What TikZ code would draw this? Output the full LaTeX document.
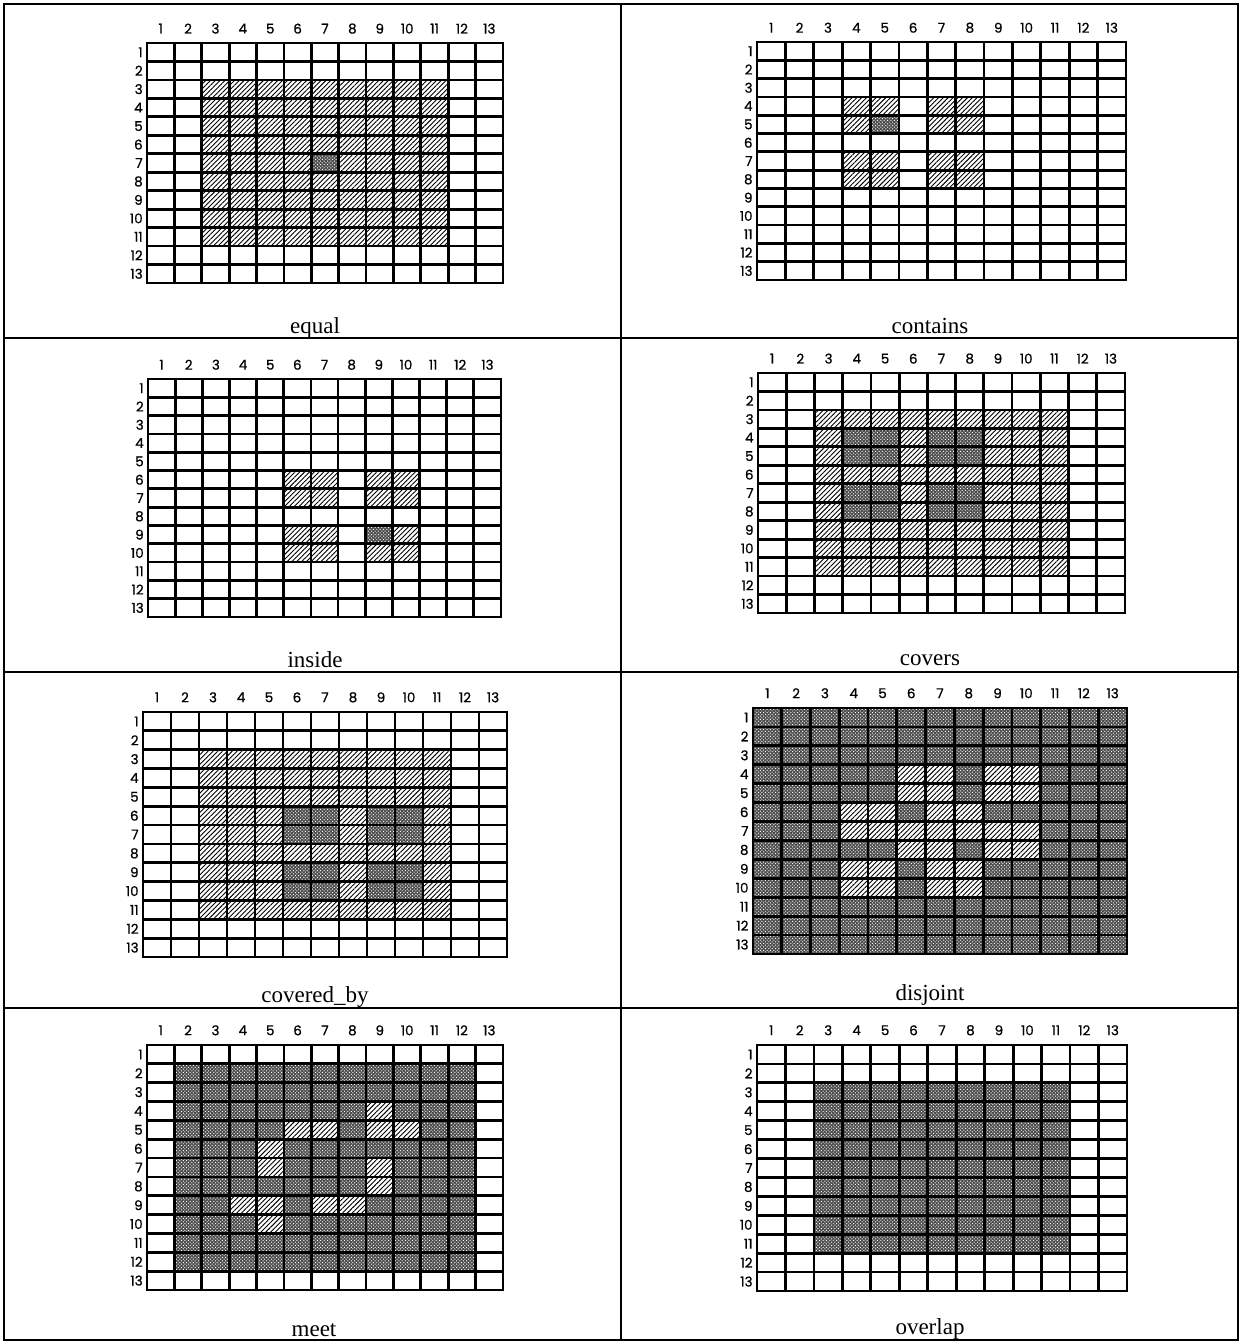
\documentclass[tikz,border=0pt]{standalone}
\usepackage{fontspec}
\setmainfont{Liberation Serif}
\newfontfamily\numfont[FakeBold=0.7]{Poppins}
\usetikzlibrary{patterns.meta}

\tikzset{
  gridline/.style={line width=2.8pt, line cap=rect},
  hatchcell/.style={pattern={Lines[angle=45,distance=3.4pt,line width=0.9pt]}, pattern color=black},
  dotbase/.style={fill=black!70},
  dotcell/.style={pattern={Dots[radius=0.7pt,distance=2.4pt,angle=45]}, pattern color=white},
  numlabel/.style={font=\numfont\fontsize{13.5}{13.5}\selectfont, inner sep=0pt},
  caption/.style={font=\fontsize{23}{23}\selectfont, inner sep=0pt, anchor=base},
  frameline/.style={line width=1.3pt}
}

\newcommand{\hcell}[2]{\fill[white] (#2-1,#1-1) rectangle (#2,#1); \fill[hatchcell] (#2-1,#1-1) rectangle (#2,#1);}
\newcommand{\dcell}[2]{\fill[dotbase] (#2-1,#1-1) rectangle (#2,#1); \fill[dotcell] (#2-1,#1-1) rectangle (#2,#1);}
% #1 prefix
\newcommand{\gridlines}[1]{%
  \foreach \i in {0,...,13} {\draw[gridline] (\i,0) -- (\i,13); \draw[gridline] (0,\i) -- (13,\i);}
  \foreach \i in {1,...,13} {%
    \node[numlabel] (#1col\i) at (\i-0.5,-0.78) {\i};
    \node[numlabel, anchor=east] (#1row\i) at (-0.15,\i-0.5) {\i};
  }%
}

\begin{document}
\begin{tikzpicture}[x=1pt,y=-1pt]
\useasboundingbox (0,0) rectangle (1241,1344);
\fill[white] (0,0) rectangle (1241,1344);

% frame
\draw[frameline] (4,4) rectangle (1238,1340);
\draw[frameline] (621,4) -- (621,1340);
\foreach \yy in {338,672,1008} {\draw[frameline] (4,\yy) -- (1238,\yy);}

% ---------- equal
\begin{scope}[shift={(147,43)}, x={(356/13,0)}, y={(0,240/13)}]
  \foreach \r in {3,...,11} {\foreach \c in {3,...,11} {\hcell{\r}{\c}}}
  \dcell{7}{7}
  \gridlines{a}
\end{scope}
\node[caption] (capa) at (315,333) {equal};

% ---------- contains
\begin{scope}[shift={(757,42)}, x={(369/13,0)}, y={(0,238/13)}]
  \foreach \r in {4,5,7,8} {\foreach \c in {4,5,7,8} {\hcell{\r}{\c}}}
  \dcell{5}{5}
  \gridlines{b}
\end{scope}
\node[caption] (capb) at (930,333) {contains};

% ---------- inside
\begin{scope}[shift={(148,379)}, x={(353/13,0)}, y={(0,238/13)}]
  \foreach \r in {6,7,9,10} {\foreach \c in {6,7,9,10} {\hcell{\r}{\c}}}
  \dcell{9}{9}
  \gridlines{c}
\end{scope}
\node[caption] (capc) at (315,667) {inside};

% ---------- covers
\begin{scope}[shift={(758,373)}, x={(367/13,0)}, y={(0,240/13)}]
  \foreach \r in {3,...,11} {\foreach \c in {3,...,11} {\hcell{\r}{\c}}}
  \foreach \r in {4,5,7,8} {\foreach \c in {4,5,7,8} {\dcell{\r}{\c}}}
  \gridlines{d}
\end{scope}
\node[caption] (capd) at (930,665) {covers};

% ---------- covered_by
\begin{scope}[shift={(143,712)}, x={(364/13,0)}, y={(0,245/13)}]
  \foreach \r in {3,...,11} {\foreach \c in {3,...,11} {\hcell{\r}{\c}}}
  \foreach \r in {6,7,9,10} {\foreach \c in {6,7,9,10} {\dcell{\r}{\c}}}
  \gridlines{e}
\end{scope}
\node[caption] (cape) at (315,1002) {covered\_by};

% ---------- disjoint
\begin{scope}[shift={(753,708)}, x={(374/13,0)}, y={(0,246/13)}]
  \foreach \r in {1,...,13} {\foreach \c in {1,...,13} {\dcell{\r}{\c}}}
  \foreach \r/\c in {4/6,4/7,4/9,4/10,5/6,5/7,5/9,5/10,6/4,6/5,6/7,6/8,
                     7/4,7/5,7/6,7/7,7/8,7/9,7/10,8/6,8/7,8/9,8/10,
                     9/4,9/5,9/7,9/8,10/4,10/5,10/7,10/8} {\hcell{\r}{\c}}
  \gridlines{f}
\end{scope}
\node[caption] (capf) at (930,1000) {disjoint};

% ---------- meet
\begin{scope}[shift={(147,1045)}, x={(356/13,0)}, y={(0,245/13)}]
  \foreach \r in {2,...,12} {\foreach \c in {2,...,12} {\dcell{\r}{\c}}}
  \foreach \r/\c in {4/9,5/6,5/7,5/9,5/10,6/5,7/5,7/9,8/9,9/4,9/5,9/7,9/8,10/5} {\hcell{\r}{\c}}
  \gridlines{g}
\end{scope}
\node[caption] (capg) at (314,1336) {meet};

% ---------- overlap
\begin{scope}[shift={(757,1045)}, x={(370/13,0)}, y={(0,246/13)}]
  \foreach \r in {3,...,11} {\foreach \c in {3,...,11} {\dcell{\r}{\c}}}
  \gridlines{h}
\end{scope}
\node[caption] (caph) at (930,1334) {overlap};

\end{tikzpicture}
\end{document}
